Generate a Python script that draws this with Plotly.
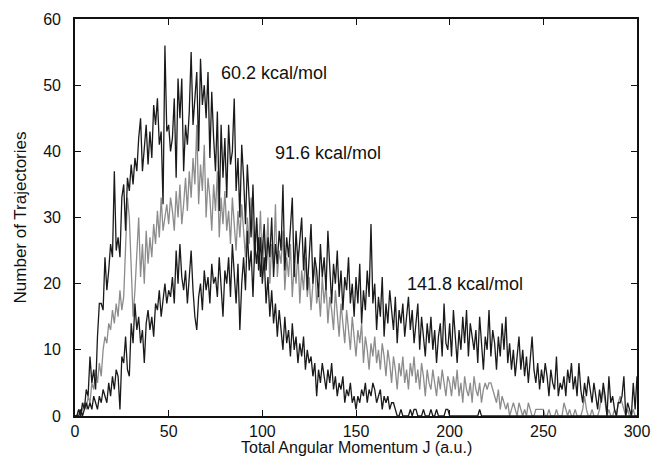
import plotly.graph_objects as go

# Histogram values per unit of J (J = 0, 1, 2, ...)
series_602 = [
    0, 0, 1, 0, 2, 1, 4, 3, 9, 5,
    7, 4, 12, 17, 17, 16, 24, 19, 22, 26,
    24, 37, 25, 27, 24, 33, 35, 28, 36, 34,
    38, 35, 39, 37, 42, 45, 37, 41, 44, 38,
    43, 39, 47, 44, 48, 41, 43, 32, 56, 43,
    44, 40, 42, 48, 36, 51, 45, 51, 37, 44,
    41, 46, 55, 44, 48, 52, 40, 54, 47, 50,
    45, 52, 39, 49, 42, 37, 46, 31, 44, 36,
    42, 33, 44, 38, 40, 48, 34, 39, 30, 41,
    36, 29, 38, 32, 27, 35, 25, 30, 22, 27,
    20, 24, 17, 21, 15, 19, 14, 17, 12, 16,
    13, 10, 15, 11, 13, 9, 14, 10, 12, 8,
    11, 9, 12, 7, 10, 8, 9, 6, 8, 3,
    7, 5, 8, 6, 4, 7, 5, 8, 4, 6,
    3, 5, 4, 6, 2, 4, 3, 5, 2, 3,
    1, 3, 2, 4, 3, 5, 2, 4, 3, 5,
    4, 2, 3, 4, 1, 3, 2, 3, 1, 2,
    2, 1, 0, 0, 1, 0, 0, 0, 0, 1,
    0, 1, 1, 0, 0, 0, 1, 0, 0, 0,
    1, 0, 0, 1, 0, 0, 0, 0, 1, 1,
    0, 0, 0, 0, 0, 0, 0, 0, 0, 0,
    0, 0, 0, 0, 0, 0, 1, 0, 0, 0,
    0, 0, 0, 0, 0, 0, 0, 0, 0, 0,
    0, 0, 0, 0, 0, 0, 0, 0, 0, 0,
    0, 0, 0, 0, 0, 0, 0, 0, 0, 0,
    0, 0, 0, 0, 0, 0, 0, 0, 0, 0,
    0, 0, 0, 0, 0, 0, 0, 0, 0, 0,
    0, 0, 0, 0, 0, 0, 0, 0, 0, 0,
    0, 0, 0, 0, 0, 0, 0, 0, 0, 0,
    0, 0, 0, 0, 0, 0, 0, 0, 0, 0,
    0,
]

series_916 = [
    0, 0, 1, 0, 1, 2, 1, 3, 2, 5,
    4, 7, 5, 8, 6, 10, 12, 11, 14, 13,
    16, 14, 17, 15, 19, 16, 18, 26, 33, 30,
    22, 15, 19, 24, 30, 21, 26, 20, 28, 23,
    27, 24, 29, 26, 31, 27, 33, 28, 30, 32,
    29, 33, 31, 28, 34, 30, 35, 29, 32, 36,
    31, 37, 33, 39, 35, 44, 32, 38, 34, 41,
    30, 36, 33, 28, 35, 31, 37, 27, 33, 29,
    34, 28, 31, 26, 33, 29, 25, 31, 27, 32,
    28, 24, 30, 26, 33, 27, 23, 29, 25, 31,
    22, 27, 24, 30, 20, 26, 23, 32, 21, 25,
    23, 28, 19, 24, 21, 26, 18, 23, 20, 25,
    17, 22, 19, 24, 18, 21, 16, 20, 23, 17,
    19, 15, 21, 17, 20, 14, 18, 16, 13, 19,
    15, 12, 17, 14, 11, 16, 13, 10, 15, 12,
    9, 13, 11, 14, 8, 12, 10, 7, 11, 9,
    12, 8, 10, 7, 11, 9, 6, 10, 8, 5,
    9, 7, 4, 8, 6, 9, 5, 7, 4, 8,
    6, 9, 5, 7, 4, 8, 6, 3, 7, 5,
    4, 7, 5, 3, 6, 4, 7, 5, 3, 6,
    5, 3, 6, 4, 7, 3, 5, 2, 6, 4,
    3, 5, 2, 6, 4, 3, 5, 2, 4, 5,
    4, 5, 5, 4, 3, 2, 4, 1, 3, 2,
    1, 2, 0, 1, 2, 1, 0, 2, 1, 0,
    1, 0, 2, 1, 0, 0, 1, 1, 1, 1,
    1, 0, 0, 1, 0, 0, 0, 1, 0, 0,
    0, 2, 1, 0, 1, 0, 0, 1, 0, 0,
    0, 1, 3, 1, 0, 0, 1, 0, 0, 0,
    1, 3, 4, 2, 0, 1, 0, 0, 1, 0,
    2, 3, 2, 1, 0, 1, 0, 0, 1, 0,
    0,
]

series_1418 = [
    0, 0, 0, 1, 0, 1, 2, 1, 2, 1,
    3, 2, 1, 3, 2, 4, 3, 2, 5, 3,
    6, 4, 7, 6, 1, 9, 8, 12, 7, 6,
    14, 11, 17, 13, 15, 11, 13, 8, 14, 16,
    13, 15, 12, 17, 16, 19, 15, 18, 20, 17,
    19, 18, 21, 17, 25, 20, 26, 21, 19, 22,
    17, 21, 25, 19, 15, 13, 18, 20, 16, 22,
    19, 21, 17, 23, 20, 21, 18, 24, 19, 15,
    22, 20, 24, 18, 26, 21, 17, 23, 13, 20,
    24, 19, 28, 22, 25, 18, 26, 23, 27, 21,
    25, 29, 22, 27, 24, 30, 21, 26, 23, 28,
    25, 35, 22, 27, 24, 29, 33, 21, 28, 23,
    26, 30, 22, 27, 19, 25, 29, 20, 24, 22,
    18, 26, 21, 24, 19, 28, 22, 17, 23, 20,
    25, 18, 22, 16, 21, 19, 24, 17, 20, 15,
    21, 17, 23, 14, 19, 16, 22, 18, 29, 17,
    20, 13, 18, 15, 21, 12, 17, 14, 19, 16,
    13, 18, 11, 16, 14, 17, 12, 15, 18, 13,
    16, 11, 14, 17, 10, 15, 12, 9, 14, 11,
    15, 10, 13, 8, 12, 14, 9, 17, 11, 10,
    14, 9, 16, 12, 8, 13, 10, 15, 11, 16,
    9, 14, 12, 10, 13, 8, 15, 11, 7, 12,
    10, 16, 9, 13, 11, 7, 12, 9, 14, 10,
    15, 8, 11, 7, 10, 6, 9, 12, 7, 10,
    6, 9, 5, 8, 12, 7, 5, 8, 4, 7,
    5, 8, 6, 3, 7, 5, 4, 9, 3, 5,
    4, 6, 3, 7, 5, 8, 4, 6, 3, 8,
    4, 2, 5, 3, 6, 4, 2, 5, 3, 1,
    4, 2, 5, 3, 0, 6, 2, 3, 1, 0,
    2, 2, 3, 6, 0, 2, 1, 0, 5, 1,
    6,
]

labels = ["60.2 kcal/mol", "91.6 kcal/mol", "141.8 kcal/mol"]
label_x = [106, 135, 208]
label_y = [51.8, 39.7, 19.9]

x_ticks = [0, 50, 100, 150, 200, 250, 300]
y_ticks = [0, 10, 20, 30, 40, 50, 60]

FONT = "Liberation Sans, Arial, Helvetica, sans-serif"
FS = 16

fig = go.Figure()
for vals, color in [(series_916, "#8c8c8c"), (series_1418, "#1a1a1a"), (series_602, "#1a1a1a")]:
    fig.add_trace(go.Scatter(
        x=list(range(len(vals))), y=vals, mode="lines",
        line=dict(color=color, width=1.3), showlegend=False, hoverinfo="skip",
    ))

for t, xx, yy in zip(labels, label_x, label_y):
    fig.add_annotation(x=xx, y=yy, text=t, showarrow=False,
                       font=dict(family=FONT, size=18, color="#111"))

# x-axis title placed just below the tick labels
fig.add_annotation(x=0.5, xref="paper", y=-0.106, yref="paper", yanchor="bottom",
                   text="Total Angular Momentum J (a.u.)", showarrow=False,
                   font=dict(family=FONT, size=FS, color="#111"))

axis_common = dict(
    showgrid=False, zeroline=False, showline=True, linecolor="#111", linewidth=1.6,
    mirror="ticks", ticks="inside", ticklen=6, tickwidth=1.2, tickcolor="#111",
    tickfont=dict(family=FONT, size=FS, color="#111"), automargin=False,
)

fig.update_layout(
    width=652, height=460,
    margin=dict(l=75, r=15, t=19, b=44),
    paper_bgcolor="white", plot_bgcolor="white",
    xaxis=dict(range=[0, 300], tickvals=x_ticks, ticklabelstandoff=0, **axis_common),
    yaxis=dict(range=[0, 60], tickvals=y_ticks, ticklabelstandoff=9, **axis_common,
               title=dict(text="Number of Trajectories", standoff=12,
                          font=dict(family=FONT, size=17, color="#111"))),
)

fig.write_html("out.html")
